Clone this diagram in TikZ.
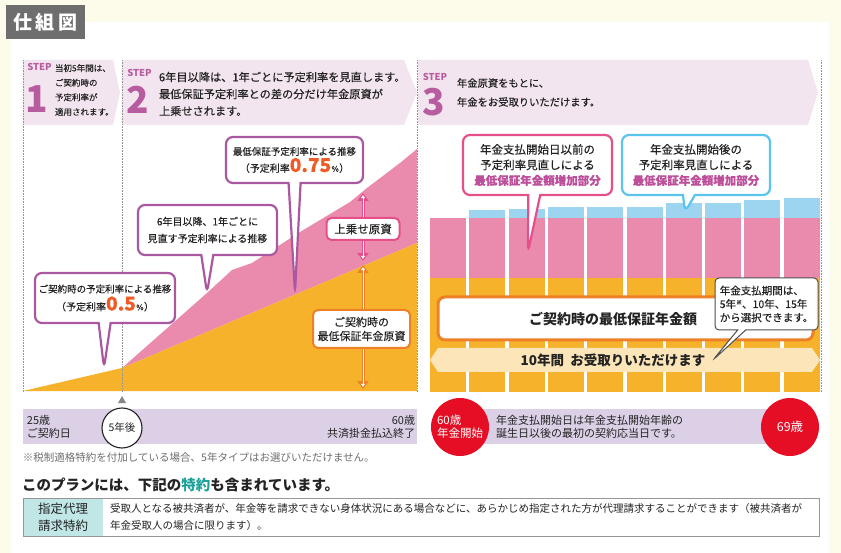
\documentclass[tikz,border=0pt]{standalone}
\usepackage{fontspec}
\setmainfont{Noto Sans CJK JP}
\newfontfamily\medium{Noto Sans CJK JP}[FakeBold=0.3]
\usetikzlibrary{shapes.callouts,arrows.meta}
\definecolor{cream}{RGB}{253,251,234}
\definecolor{titleGray}{RGB}{110,110,110}
\definecolor{bandPink}{RGB}{243,229,239}
\definecolor{stepPurple}{RGB}{184,92,160}
\definecolor{lineViolet}{RGB}{170,88,160}
\definecolor{pinkArea}{RGB}{234,139,173}
\definecolor{gold}{RGB}{245,178,42}
\definecolor{deepOrange}{RGB}{238,128,40}
\definecolor{rosePink}{RGB}{229,80,138}
\definecolor{skyBlue}{RGB}{157,212,240}
\definecolor{lineBlue}{RGB}{90,195,238}
\definecolor{paleGold}{RGB}{252,230,185}
\definecolor{lavender}{RGB}{220,208,230}
\definecolor{alarmRed}{RGB}{230,14,37}
\definecolor{tealText}{RGB}{27,160,155}
\definecolor{tealPale}{RGB}{192,230,230}
\definecolor{numOrange}{RGB}{240,90,36}
\definecolor{noteGray}{RGB}{110,110,110}
\definecolor{guideGray}{RGB}{150,150,150}
\definecolor{ink}{RGB}{35,35,35}
\definecolor{accentText}{RGB}{190,80,155}

\begin{document}
\begin{tikzpicture}[x=1pt,y=-1pt,
    every node/.style={inner sep=0pt, outer sep=0pt, text=ink},
    guide/.style={densely dotted, draw=guideGray, line width=0.6pt},
    steptag/.style={text=stepPurple, font=\bfseries\fontsize{9.5}{9.5}\selectfont},
    stepnum/.style={text=stepPurple, font=\bfseries\fontsize{37}{37}\selectfont},
    steptext/.style={anchor=west, align=left},
    balloon/.style={rectangle callout, draw=#1, fill=white, line width=2.2pt,
      rounded corners=7pt, callout pointer width=12pt, align=center},
    tagbox/.style={draw=#1, fill=white, line width=2pt, rounded corners=5pt, align=center},
    dblarrow/.style={line width=3pt, draw=#1,
      {Triangle[width=11pt,length=8pt]}-{Triangle[width=11pt,length=8pt]}},
    inarrow/.style={line width=0.9pt, draw=white, shorten <=2.2pt, shorten >=2.2pt,
      {Triangle[width=4pt,length=3pt]}-{Triangle[width=4pt,length=3pt]}},
    redball/.style={circle, fill=alarmRed, minimum size=58pt, text=white, align=left}
  ]
  % page and panel
  \fill[cream] (0,0) rectangle (841,553);
  \fill[white] (11,22) rectangle (829,553);
  \useasboundingbox (0,0) rectangle (841,553);
  \node[fill=titleGray, text=white, minimum width=79pt, minimum height=34pt,
    font=\bfseries\fontsize{19}{19}\selectfont] (title) at (45.5,22) {仕\,組\,図};

  % step bands
  \fill[bandPink] (23,60) -- (113,60) -- (120,92.5) -- (113,125) -- (23,125) -- cycle;
  \fill[bandPink] (122,60) -- (404,60) -- (417,92.5) -- (404,125) -- (122,125) -- cycle;
  \fill[bandPink] (418,60) -- (808,60) -- (818,92.5) -- (808,125) -- (418,125) -- cycle;
  \node[steptag] (tag1) at (39.5,67) {STEP};
  \node[stepnum] (num1) at (36.5,99) {1};
  \node[steptext, font=\medium\fontsize{8.5}{14.6}\selectfont] (txt1) at (55,90)
    {当初5年間は、\\ご契約時の\\予定利率が\\適用されます。};
  \node[steptag] (tag2) at (139.5,73) {STEP};
  \node[stepnum] (num2) at (138,100) {2};
  \node[steptext, font=\medium\fontsize{11.2}{17}\selectfont] (txt2) at (159,94)
    {6年目以降は、1年ごとに予定利率を見直します。\\最低保証予定利率との差の分だけ年金原資が\\上乗せされます。};
  \node[steptag] (tag3) at (435,77) {STEP};
  \node[stepnum] (num3) at (434,102) {3};
  \node[steptext, font=\medium\fontsize{10.3}{19}\selectfont] (txt3) at (457,92.5)
    {年金原資をもとに、\\年金をお受取りいただけます。};

  % left chart
  \fill[pinkArea] (122,368) -- (207,293) -- (232,270) -- (252,263) -- (300,232)
    -- (350,202) -- (367,188) -- (400,163) -- (417,149) -- (417,243) -- cycle;
  \fill[gold] (23,391) -- (122,368) -- (417,243) -- (417,391) -- cycle;

  % right chart
  \foreach \i/\top in {0/218,1/210,2/209,3/207,4/207,5/207,6/203,7/203,8/200,9/198} {
    \pgfmathsetmacro\xa{430+39.3*\i}
    \fill[skyBlue] (\xa,\top) rectangle (\xa+36,218);
    \fill[pinkArea] (\xa,218) rectangle (\xa+36,278);
    \fill[gold] (\xa,278) rectangle (\xa+36,392);
  }

  % guides
  \foreach \gx in {23,122,417,821}
    \draw[guide] (\gx,60) -- (\gx,392);

  % callouts on the left chart
  \coordinate (tipA) at (104,368);
  \coordinate (tipB) at (207,293);
  \coordinate (tipC) at (295,293);
  \node[balloon=lineViolet, minimum width=140pt, minimum height=50pt,
    callout absolute pointer=(tipA)] (rateA) at (105,298)
    {{\medium\fontsize{9.5}{12}\selectfont ご契約時の予定利率による推移}\\[2pt]
     {\medium\fontsize{10}{12}\selectfont （予定利率{\color{numOrange}\fontsize{19}{19}\selectfont\bfseries 0.5}{\fontsize{8}{8}\selectfont ％}）}};
  \node[balloon=lineViolet, minimum width=139pt, minimum height=50pt,
    font=\medium\fontsize{10}{17}\selectfont,
    callout absolute pointer=(tipB)] (rateB) at (207.5,230)
    {6年目以降、1年ごとに\\見直す予定利率による推移};
  \node[balloon=lineViolet, minimum width=137pt, minimum height=46pt,
    callout absolute pointer=(tipC)] (rateC) at (294.5,160)
    {{\medium\fontsize{9.5}{12}\selectfont 最低保証予定利率による推移}\\[1pt]
     {\medium\fontsize{10}{12}\selectfont （予定利率{\color{numOrange}\fontsize{19}{19}\selectfont\bfseries 0.75}{\fontsize{8}{8}\selectfont ％}）}};

  % spans
  \coordinate (addTop) at (363,193);
  \coordinate (addBot) at (363,261);
  \coordinate (baseTop) at (363,265);
  \coordinate (baseBot) at (363,389);
  \draw[dblarrow=rosePink] (addTop) -- (addBot);
  \draw[inarrow] (addTop) -- (addBot);
  \draw[dblarrow=deepOrange] (baseTop) -- (baseBot);
  \draw[inarrow] (baseTop) -- (baseBot);
  \node[tagbox=rosePink, minimum width=73pt, minimum height=22pt,
    font=\medium\fontsize{11.5}{14}\selectfont] (addTag) at (363,229) {上乗せ原資};
  \node[tagbox=deepOrange, minimum width=97pt, minimum height=38pt,
    font=\medium\fontsize{11}{14}\selectfont] (baseTag) at (361.5,329) {ご契約時の\\最低保証年金原資};

  % callouts on the right chart
  \coordinate (tipD) at (528,252);
  \coordinate (tipE) at (685,212);
  \coordinate (tipF) at (713,360);
  \node[balloon=rosePink, minimum width=149pt, minimum height=60pt,
    font=\medium\fontsize{11.5}{15.5}\selectfont,
    callout absolute pointer=(tipD)] (beforeUp) at (537.5,165)
    {年金支払開始日以前の\\予定利率見直しによる\\{\color{accentText}\bfseries 最低保証年金額増加部分}};
  \node[balloon=lineBlue, minimum width=148pt, minimum height=60pt,
    font=\medium\fontsize{11.5}{15.5}\selectfont,
    callout absolute pointer=(tipE)] (afterUp) at (696,165)
    {年金支払開始後の\\予定利率見直しによる\\{\color{accentText}\bfseries 最低保証年金額増加部分}};

  \node[draw=deepOrange, line width=3pt, fill=white, rounded corners=7pt,
    minimum width=375pt, minimum height=43pt] (minBox) at (625.5,318.5) {};
  \node[font=\bfseries\fontsize{14}{14}\selectfont] (minLabel) at (613,319) {ご契約時の最低保証年金額};
  \fill[paleGold] (430,360) -- (438,348) -- (812,348) -- (820,360) -- (812,372) -- (438,372) -- cycle;
  \node[font=\bfseries\fontsize{13.5}{14}\selectfont] (payLabel) at (613,360) {10年間\ \ お受取りいただけます};
  \node[rectangle callout, draw=ink!80, fill=white, line width=1pt, rounded corners=4pt,
    callout pointer width=8pt, callout absolute pointer=(tipF),
    minimum width=103pt, minimum height=52pt, align=left,
    font=\medium\fontsize{10.5}{13.5}\selectfont] (termNote) at (766.5,304)
    {年金支払期間は、\\5年\raisebox{0.6ex}{\fontsize{6}{6}\selectfont ※}、10年、15年\\から選択できます。};

  % timeline
  \fill[lavender] (23,409) rectangle (417,444);
  \fill[guideGray!90!black] (118,403) -- (126,403) -- (122,396) -- cycle;
  \node[anchor=west, align=left, font=\fontsize{11}{13}\selectfont] (startAge) at (27,427) {25歳\\ご契約日};
  \node[anchor=east, align=right, font=\fontsize{11}{13}\selectfont] (endAge) at (415,427) {60歳\\共済掛金払込終了};
  \node[circle, draw=ink, line width=1.1pt, fill=white, minimum size=40pt,
    font=\fontsize{10.5}{12}\selectfont] (fiveYr) at (122,428) {5年後};
  \fill[lavender] (483,409) rectangle (767,444);
  \node[anchor=west, align=left, font=\fontsize{11}{13.5}\selectfont] (startNote) at (496,427)
    {年金支払開始日は年金支払開始年齢の\\誕生日以後の最初の契約応当日です。};
  \node[redball, font=\fontsize{11.5}{13}\selectfont] (payStart) at (460,427) {60歳\\年金開始};
  \node[redball, font=\fontsize{12.5}{13}\selectfont] (payEnd) at (790,427) {69歳};

  % notes and rider table
  \node[anchor=west, text=noteGray, font=\fontsize{10.5}{12}\selectfont] (taxNote) at (23,458)
    {※税制適格特約を付加している場合、5年タイプはお選びいただけません。};
  \node[anchor=west, font=\bfseries\fontsize{14.5}{16}\selectfont] (planHead) at (22,485)
    {このプランには、下記の{\color{tealText}特約}も含まれています。};
  \fill[tealPale] (23,498) rectangle (103,536);
  \draw[guideGray, line width=0.8pt] (23,498) rectangle (819,536);
  \node[align=center, font=\fontsize{12.5}{17}\selectfont] (riderName) at (63,517) {指定代理\\請求特約};
  \node[anchor=west, align=left, font=\fontsize{10.5}{17}\selectfont] (riderText) at (110,517)
    {受取人となる被共済者が、年金等を請求できない身体状況にある場合などに、あらかじめ指定された方が代理請求することができます（被共済者が\\年金受取人の場合に限ります）。};
\end{tikzpicture}
\end{document}
